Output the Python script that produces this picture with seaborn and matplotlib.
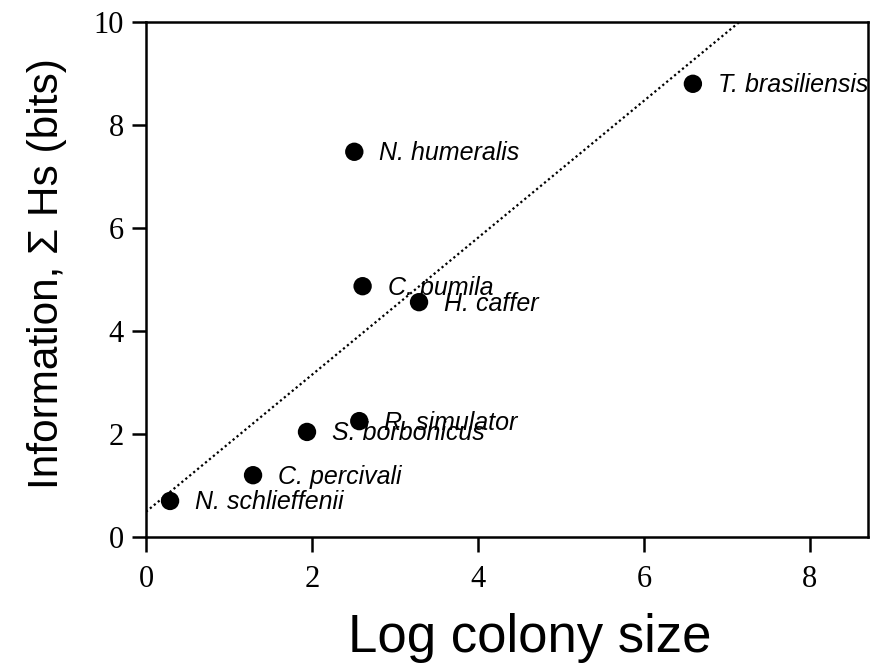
import matplotlib
matplotlib.use("Agg")
import matplotlib.pyplot as plt
import numpy as np
import pandas as pd
import seaborn as sns

# Species, log colony size and summed information content
species = ["N. schlieffenii", "C. percivali", "S. borbonicus", "R. simulator",
           "C. pumila", "H. caffer", "N. humeralis", "T. brasiliensis"]
log_colony_size = [0.29, 1.29, 1.94, 2.57, 2.61, 3.29, 2.51, 6.59]
information_bits = [0.70, 1.20, 2.04, 2.25, 4.87, 4.56, 7.48, 8.80]

# Linear fit drawn as a dotted line
fit_intercept = 0.49
fit_slope = 1.33

x_ticks = [0, 2, 4, 6, 8]
y_ticks = [0, 2, 4, 6, 8, 10]

df = pd.DataFrame({"species": species, "x": log_colony_size, "y": information_bits})

sns.set_style("ticks", {"text.color": "black", "xtick.color": "black",
                        "ytick.color": "black", "axes.labelcolor": "black"})
plt.rcParams["font.family"] = ["Liberation Sans", "DejaVu Sans"]

fig = plt.figure(figsize=(8.82, 6.63), dpi=100)
ax = fig.add_axes([146 / 882, 1 - 537 / 663, (868 - 146) / 882, (537 - 22) / 663])

xs = np.array([0.0, 8.7])
ax.plot(xs, fit_intercept + fit_slope * xs, color="black", lw=1.6,
        linestyle=(0, (1, 1.3)), zorder=1)

sns.scatterplot(data=df, x="x", y="y", ax=ax, s=175, color="black",
                edgecolor="none", zorder=3, legend=False)

for name, xv, yv in zip(species, log_colony_size, information_bits):
    ax.annotate(name, (xv, yv), xytext=(18, -1), textcoords="offset points",
                fontsize=18, fontstyle="italic", va="center", ha="left",
                color="black", family=["Liberation Sans", "DejaVu Sans"],
                zorder=4, annotation_clip=False)

ax.set_xlim(0, 8.7)
ax.set_ylim(0, 10)
ax.set_xticks(x_ticks)
ax.set_yticks(y_ticks)
ax.set_xticklabels([str(t) for t in x_ticks], family="Liberation Serif", fontsize=22)
ax.set_yticklabels([str(t) for t in y_ticks], family="Liberation Serif", fontsize=22)
ax.tick_params(axis="x", direction="out", length=11, width=1.8, pad=9,
               color="black", labelcolor="black")
ax.tick_params(axis="y", direction="out", length=10, width=1.8, pad=6,
               color="black", labelcolor="black")

for side in ["left", "right", "top", "bottom"]:
    ax.spines[side].set_visible(True)
    ax.spines[side].set_linewidth(1.8)
    ax.spines[side].set_color("black")

ax.set_xlabel("")
ax.set_ylabel("")
fig.text(530 / 882, 1 - 652 / 663, "Log colony size", fontsize=38, color="black",
         ha="center", va="baseline", family=["Liberation Sans", "DejaVu Sans"])
fig.text(47 / 882, 1 - 274 / 663, "Information, \u03a3 Hs (bits)", fontsize=30.5,
         color="black", rotation=90, ha="center", va="center",
         family=["Liberation Sans", "DejaVu Sans"])

fig.savefig("out.png", dpi=100)
